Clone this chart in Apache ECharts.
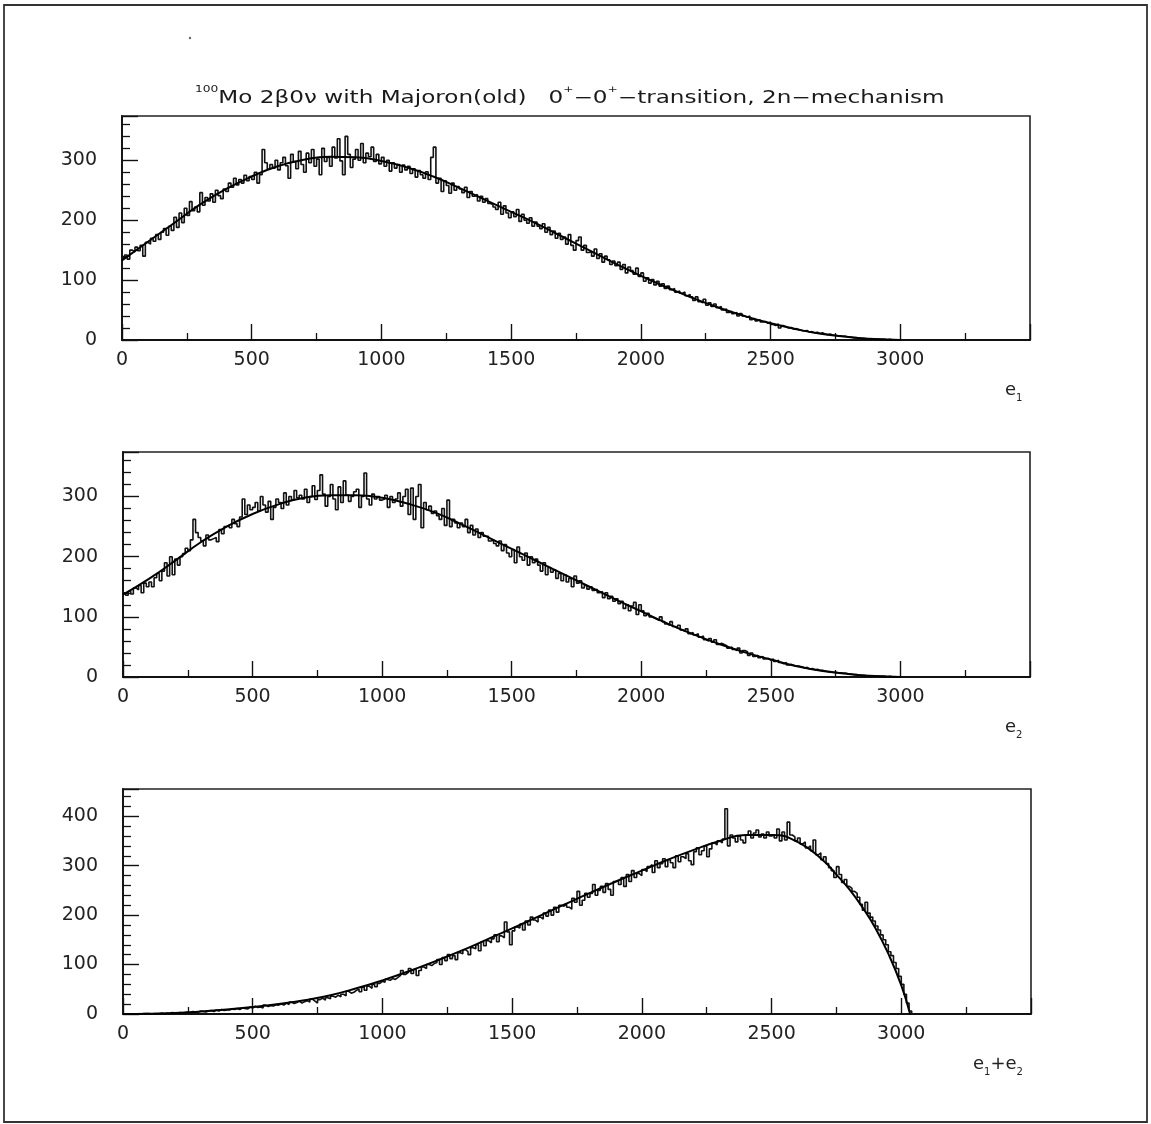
<!DOCTYPE html>
<html><head><meta charset="utf-8">
<script src="https://cdn.jsdelivr.net/npm/echarts@6/dist/echarts.min.js"></script>
<style>html,body{margin:0;padding:0;background:#fff}#c{width:1151px;height:1124px}</style>
</head><body><div id="c"></div>
<script>
// ---- data (10 keV bins, counts per bin) ----
const binWidth = 10;

const e1Counts = [
138,142,135,150,147,155,149,158,140,163,
160,170,165,176,168,180,186,175,190,183,
205,188,212,196,220,208,231,216,222,214,
246,225,238,232,244,230,250,241,236,252,
248,262,255,270,259,268,262,275,266,273,
268,280,262,276,318,296,285,293,287,300,
284,296,305,291,270,310,298,286,315,293,
280,312,296,318,290,302,276,320,298,305,
290,322,304,336,299,276,340,310,288,302,
318,300,328,296,312,306,322,298,310,294,
305,290,300,282,296,287,293,280,292,284,
290,278,286,272,283,276,270,281,268,305,
322,262,270,248,266,258,245,262,250,256,
252,246,255,238,248,240,243,232,240,230,
236,228,226,222,218,230,210,224,212,204,
214,206,218,198,210,200,195,204,190,197,
190,186,194,180,188,176,182,170,178,168,
172,160,176,158,150,166,172,150,158,146,
148,140,152,136,144,130,140,134,126,132,
124,130,118,126,112,122,116,110,120,106,
112,98,104,95,101,92,98,90,94,86,
90,84,86,80,82,78,80,74,76,72,
66,72,64,62,68,58,62,56,60,54,
56,50,52,46,48,44,46,40,44,40,
38,40,34,36,32,34,30,31,28,30,
26,24,27,20,24,22,20,21,18,19,
17,16,15,16,13,14,12,13,11,12,
10,9,10,8,8,7,7,6,6,5,
5,4,4,3,3,3,2,2,2,1,
1,1,1,1,0,1,0,0,0,0
];

const e2Counts = [
140,136,142,138,148,145,152,140,156,150,
158,150,165,172,160,176,190,168,200,170,
196,186,200,205,214,210,228,262,240,232,
226,218,236,228,230,232,225,245,238,250,
252,248,262,255,250,266,296,270,286,278,
282,290,276,300,286,274,292,262,282,296,
290,280,306,286,300,294,310,298,302,296,
312,290,300,318,295,310,336,304,284,300,
320,296,278,316,290,326,302,292,300,308,
312,282,300,339,296,286,304,296,300,294,
296,302,282,300,290,296,306,284,300,312,
270,314,262,300,320,248,290,278,284,272,
276,268,262,280,252,294,250,262,256,248,
256,250,262,240,252,236,246,232,240,234,
234,226,228,222,218,226,210,220,206,200,
212,190,216,200,194,206,186,200,190,196,
186,176,190,170,182,174,178,164,172,160,
170,158,164,150,168,156,160,148,152,146,
150,144,146,140,142,132,140,130,134,126,
130,122,126,114,120,110,118,124,104,120,
110,102,106,100,98,96,94,100,92,88,
86,92,84,82,86,78,76,80,72,74,
70,72,66,68,62,60,64,58,62,54,
56,54,52,48,50,46,44,48,40,44,
42,36,40,34,36,32,34,30,31,28,
30,26,28,24,22,24,20,21,19,18,
18,17,15,16,13,14,12,13,11,11,
10,9,9,8,8,7,7,6,6,5,
5,4,4,3,3,3,2,2,2,1,
1,1,1,1,0,1,0,0,0,0
];

const sumCounts = [
0,0,0,0,0,0,0,1,1,1,
0,1,1,1,2,1,2,1,3,2,
2,3,2,3,4,3,5,4,4,6,
5,4,6,7,5,8,6,9,7,8,
8,10,9,11,9,12,11,10,14,12,
16,13,14,12,18,15,17,16,19,18,
20,18,22,19,24,21,23,26,22,25,
27,24,30,26,22,29,32,28,33,31,
36,34,38,35,40,37,46,42,44,48,
50,45,54,48,56,52,60,55,62,66,
64,70,68,72,70,74,78,88,80,84,
92,82,90,78,88,95,92,100,98,102,
104,110,100,114,108,120,112,118,110,124,
122,130,126,120,134,132,140,128,146,138,
148,144,152,160,146,158,154,186,166,140,
168,176,174,182,170,188,180,196,190,186,
196,192,204,198,210,200,216,206,220,218,
222,216,212,234,226,248,220,230,244,236,
244,262,240,250,258,246,264,252,240,268,
270,262,276,258,282,268,290,276,284,280,
292,288,298,302,286,310,296,304,314,298,
312,306,296,320,308,318,314,324,310,302,
328,336,322,330,340,318,334,346,342,350,
346,354,415,340,362,356,348,360,352,346,
362,370,356,366,372,358,364,356,368,360,
362,356,374,350,368,352,388,362,358,350,
356,344,348,336,340,330,352,322,326,312,
318,304,296,290,276,298,282,266,272,258,
254,248,244,236,222,210,226,204,196,188,
178,170,160,150,140,126,118,104,92,76,
60,40,22,6
];

// fitted curves
const fitX = [0,100,200,300,400,500,600,700,800,900,1000,1100,1200,1300,1400,1500,1600,1700,1800,1900,2000,2100,2200,2300,2400,2500,2600,2700,2800,2900,3000];
const e1Fit = [133,164,195,226,252,273,290,301,306,305,299,288,273,254,234,214,194,172,150,128,107,88,70,54,40,28,18,10,5,1.5,0];
const e2Fit = [137,163,193,224,250,271,287,298,302,302,298,288,274,255,234,213,192,171,150,129,109,89,71,55,41,29,18,10,5,1.5,0];
const sumFitX = [0,100,200,300,400,500,600,700,800,900,1000,1100,1200,1300,1400,1500,1600,1700,1800,1900,2000,2100,2200,2300,2400,2500,2600,2700,2750,2800,2850,2900,2950,3000,3034];
const sumFit = [0,0.5,2,5,9,14,20,28,38,52,68,86,106,127,150,173,197,221,245,268,290,312,332,350,362,362,348,310,282,252,216,174,122,58,0];

const xTickLabels = [0,500,1000,1500,2000,2500,3000];
const yMaxSingle = 374;
const yMaxSum = 455;

// ---- chart ----
const FONT = 'DejaVu Sans';
const INK = '#111';

function histData(counts) {
  const d = counts.map((c, i) => [i * binWidth, c]);
  d.push([counts.length * binWidth, 0]);
  return d;
}
function pairs(xs, ys) { return xs.map((x, i) => [x, ys[i]]); }

const grids = [
  {left:122, top:116, width:908, height:224},
  {left:123, top:452, width:907, height:225},
  {left:123, top:789, width:908, height:225}
].map(g => Object.assign(g, {show:true, borderColor:'#222', borderWidth:1.6, backgroundColor:'transparent'}));

function xAx(gi) {
  return {
    type:'value', gridIndex:gi, min:0, max:3500, interval:500,
    axisLine:{show:true, lineStyle:{color:INK, width:1.8}},
    axisTick:{show:true, inside:true, length:16, lineStyle:{color:INK, width:1.4}},
    minorTick:{show:true, splitNumber:2, length:7, lineStyle:{color:INK, width:1.3}},
    splitLine:{show:false},
    axisLabel:{
      fontFamily:FONT, fontSize:19, color:'#222', margin:11,
      showMaxLabel:false,
      formatter: v => xTickLabels.indexOf(v) >= 0 ? String(v) : ''
    }
  };
}
function yAx(gi, max) {
  return {
    type:'value', gridIndex:gi, min:0, max:max, interval:100,
    axisLine:{show:true, lineStyle:{color:INK, width:1.8}},
    axisTick:{show:true, inside:true, length:16, lineStyle:{color:INK, width:1.4}},
    minorTick:{show:true, splitNumber:5, length:8, lineStyle:{color:INK, width:1.3}},
    splitLine:{show:false},
    axisLabel:{
      fontFamily:FONT, fontSize:19, color:'#222', margin:25,
      showMaxLabel:false,
      formatter: v => (v % 100 === 0) ? String(v) : ''
    }
  };
}

function histSeries(gi, counts) {
  return {
    type:'line', xAxisIndex:gi, yAxisIndex:gi, step:'end', data:histData(counts),
    showSymbol:false, symbol:'none', silent:true,
    lineStyle:{color:INK, width:1.6}, z:2
  };
}
function fitSeries(gi, xs, ys) {
  return {
    type:'line', xAxisIndex:gi, yAxisIndex:gi, smooth:true,
    data:pairs(xs, ys), showSymbol:false, symbol:'none', silent:true,
    lineStyle:{color:'#000', width:2}, z:3
  };
}

const supRich = {
  n:{fontSize:17, fontFamily:FONT, fill:'#1a1a1a', lineHeight:22, verticalAlign:'bottom'},
  s:{fontSize:9, fontFamily:FONT, fill:'#1a1a1a', lineHeight:22, verticalAlign:'top'}
};
const subRich = {
  n:{fontSize:18, fontFamily:FONT, fill:'#222', lineHeight:22, verticalAlign:'top'},
  s:{fontSize:10, fontFamily:FONT, fill:'#222', lineHeight:22, verticalAlign:'bottom'}
};

const option = {
  animation:false,
  backgroundColor:'#fff',
  grid:grids,
  xAxis:[xAx(0), xAx(1), xAx(2)],
  yAxis:[yAx(0, yMaxSingle), yAx(1, yMaxSingle), yAx(2, yMaxSum)],
  series:[
    histSeries(0, e1Counts), fitSeries(0, fitX, e1Fit),
    histSeries(1, e2Counts), fitSeries(1, fitX, e2Fit),
    histSeries(2, sumCounts), fitSeries(2, sumFitX, sumFit)
  ],
  graphic:[
    {type:'rect', shape:{x:4, y:5, width:1143, height:1117}, style:{fill:'none', stroke:'#333', lineWidth:1.8}, silent:true},
    {type:'circle', shape:{cx:190, cy:38, r:1.2}, style:{fill:'#666'}, silent:true},
    {type:'text', x:195, y:85, scaleX:1.36, silent:true,
      style:{text:'{s|100}{n|Mo 2β0ν with Majoron(old)   0}{s|+}{n|−0}{s|+}{n|−transition, 2n−mechanism}', rich:supRich}},
    {type:'text', x:1005, y:381, silent:true, style:{text:'{n|e}{s|1}', rich:subRich}},
    {type:'text', x:1005, y:718, silent:true, style:{text:'{n|e}{s|2}', rich:subRich}},
    {type:'text', x:973, y:1055, silent:true, style:{text:'{n|e}{s|1}{n|+e}{s|2}', rich:subRich}}
  ]
};

const chart = echarts.init(document.getElementById('c'), null, {renderer:'canvas'});
chart.setOption(option);
</script>
</body></html>
